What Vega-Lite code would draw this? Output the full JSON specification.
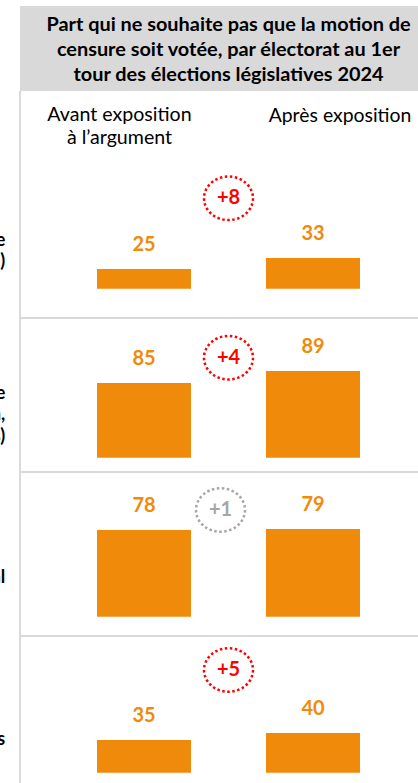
{
  "$schema": "https://vega.github.io/schema/vega-lite/v6.json",
  "padding": 0,
  "spacing": 0,
  "bounds": "flush",
  "config": {"view": {"stroke": null}, "font": "Lato", "text": {"font": "Lato"}},
  "resolve": {"scale": {"x": "independent", "y": "independent"}},
  "datasets": {
    "scores": [
      {"electorat": "Nouveau Front Populaire", "phase": "Avant", "valeur": 25},
      {"electorat": "Nouveau Front Populaire", "phase": "Après", "valeur": 33},
      {"electorat": "Ensemble", "phase": "Avant", "valeur": 85},
      {"electorat": "Ensemble", "phase": "Après", "valeur": 89},
      {"electorat": "Rassemblement National", "phase": "Avant", "valeur": 78},
      {"electorat": "Rassemblement National", "phase": "Après", "valeur": 79},
      {"electorat": "Les Républicains", "phase": "Avant", "valeur": 35},
      {"electorat": "Les Républicains", "phase": "Après", "valeur": 40}
    ],
    "ecarts": [
      {"electorat": "Nouveau Front Populaire", "ecart": "+8", "significatif": "oui", "libelle": "Nouveau Front Populaire\n(LFI, PS, Écologistes, PCF)"},
      {"electorat": "Ensemble", "ecart": "+4", "significatif": "oui", "libelle": "Ensemble\n(Renaissance, MoDem,\nHorizons)"},
      {"electorat": "Rassemblement National", "ecart": "+1", "significatif": "non", "libelle": "Rassemblement National"},
      {"electorat": "Les Républicains", "ecart": "+5", "significatif": "oui", "libelle": "Les Républicains"}
    ]
  },
  "vconcat": [
    {
      "width": 418, "height": 160,
      "data": {"values": [{}]},
      "layer": [
        {"mark": {"type": "rect", "color": "#D9D9D9"},
         "encoding": {
           "x": {"datum": "lbl", "bandPosition": 0.0325, "type": "nominal", "axis": null, "scale": {"type": "band", "domain": ["lbl", "Avant", "ecart", "Après"], "paddingInner": 0, "paddingOuter": 0.4734, "align": 0.2156, "round": false}},
           "x2": {"value": "width"},
           "y": {"datum": "titre", "type": "nominal", "axis": null, "scale": {"type": "band", "domain": ["titre", "colonnes"], "range": [6, 176], "paddingInner": 0, "paddingOuter": 0, "round": false}}
         }},
        {"mark": {"type": "rule", "color": "#D9D9D9", "strokeWidth": 2},
         "encoding": {
           "x": {"datum": "lbl", "bandPosition": 0.0325, "type": "nominal", "axis": null},
           "y": {"datum": "colonnes", "bandPosition": 0, "type": "nominal", "axis": null},
           "y2": {"value": "height"}
         }},
        {"mark": {"type": "text", "fontWeight": "bold", "fontSize": 19.9, "lineHeight": 25, "baseline": "middle", "dy": -23.5, "color": "#000000"},
         "encoding": {
           "x": {"datum": "ecart", "type": "nominal", "axis": null},
           "y": {"datum": "titre", "type": "nominal", "axis": null},
           "text": {"value": ["Part qui ne souhaite pas que la motion de", "censure soit votée, par électorat au 1er", "tour des élections législatives 2024"]}
         }},
        {"mark": {"type": "text", "fontSize": 19.6, "lineHeight": 23, "baseline": "middle", "dx": -24.5, "dy": -18.5, "color": "#000000"},
         "encoding": {
           "x": {"datum": "Avant", "type": "nominal", "axis": null},
           "y": {"datum": "colonnes", "type": "nominal", "axis": null},
           "text": {"value": ["Avant exposition", "à l’argument"]}
         }},
        {"mark": {"type": "text", "fontSize": 19.4, "baseline": "middle", "dx": 27, "dy": -17.5, "color": "#000000"},
         "encoding": {
           "x": {"datum": "Après", "type": "nominal", "axis": null},
           "y": {"datum": "colonnes", "type": "nominal", "axis": null},
           "text": {"value": "Après exposition"}
         }}
      ]
    },
    {
      "width": 418, "height": 158,
      "layer": [
        {"data": {"values": [{}]}, "mark": {"type": "rule", "color": "#D9D9D9", "strokeWidth": 2},
         "encoding": {"x": {"datum": "lbl", "bandPosition": 0.0325, "type": "nominal", "axis": null, "scale": {"type": "band", "domain": ["lbl", "Avant", "ecart", "Après"], "paddingInner": 0, "paddingOuter": 0.4734, "align": 0.2156, "round": false}}}},
        {"data": {"name": "scores"}, "transform": [{"filter": "datum.electorat === 'Nouveau Front Populaire'"}],
         "mark": {"type": "bar", "width": 94, "color": "#F08A0B"},
         "encoding": {"x": {"field": "phase", "type": "nominal", "axis": null}, "y": {"field": "valeur", "type": "quantitative", "axis": null, "scale": {"domain": [-10.64, 104.27], "nice": false, "zero": false}}, "y2": {"datum": 10.69}}},
        {"data": {"name": "scores"}, "transform": [{"filter": "datum.electorat === 'Nouveau Front Populaire'"}],
         "mark": {"type": "text", "fontWeight": "bold", "fontSize": 20, "color": "#F08A0B", "baseline": "middle", "dy": -24},
         "encoding": {"x": {"field": "phase", "type": "nominal", "axis": null}, "y": {"field": "valeur", "type": "quantitative", "axis": null}, "text": {"field": "valeur", "type": "quantitative"}}},
        {"data": {"name": "ecarts"}, "transform": [{"filter": "datum.electorat === 'Nouveau Front Populaire'"}],
         "mark": {"type": "point", "shape": "M-1,0A1,0.888,0,1,0,1,0A1,0.888,0,1,0,-1,0Z", "size": 2401, "filled": false, "strokeWidth": 2.5, "strokeDash": [2.5, 2.5], "opacity": 1},
         "encoding": {"x": {"datum": "ecart", "type": "nominal", "axis": null}, "y": {"datum": 76.4, "type": "quantitative", "axis": null}, "color": {"field": "significatif", "type": "nominal", "legend": null, "scale": {"domain": ["oui", "non"], "range": ["#FF0000", "#A6A6A6"]}}}},
        {"data": {"name": "ecarts"}, "transform": [{"filter": "datum.electorat === 'Nouveau Front Populaire'"}],
         "mark": {"type": "text", "fontWeight": "bold", "fontSize": 20, "baseline": "middle"},
         "encoding": {"x": {"datum": "ecart", "type": "nominal", "axis": null}, "y": {"datum": 76.4, "type": "quantitative", "axis": null}, "text": {"field": "ecart"}, "color": {"field": "significatif", "type": "nominal", "legend": null}}},
        {"data": {"name": "ecarts"}, "transform": [{"filter": "datum.electorat === 'Nouveau Front Populaire'"}],
         "mark": {"type": "text", "fontWeight": "bold", "fontSize": 18, "lineHeight": 21, "align": "right", "baseline": "middle", "dx": -12, "dy": -10.5, "clip": true, "lineBreak": "\n", "color": "#000000"},
         "encoding": {"x": {"datum": "lbl", "bandPosition": 0, "type": "nominal", "axis": null}, "y": {"datum": 37.7, "type": "quantitative", "axis": null}, "text": {"field": "libelle"}}}
      ]
    },
    {
      "width": 418, "height": 154,
      "layer": [
        {"data": {"values": [{}]}, "mark": {"type": "rule", "color": "#D9D9D9", "strokeWidth": 2},
         "encoding": {"x": {"datum": "lbl", "bandPosition": 0.0325, "type": "nominal", "axis": null, "scale": {"type": "band", "domain": ["lbl", "Avant", "ecart", "Après"], "paddingInner": 0, "paddingOuter": 0.4734, "align": 0.2156, "round": false}}}},
        {"data": {"values": [{}]}, "mark": {"type": "rule", "color": "#D9D9D9", "strokeWidth": 2},
         "encoding": {"x": {"datum": "lbl", "bandPosition": 0.0325, "type": "nominal", "axis": null}, "x2": {"value": "width"}, "y": {"datum": 106.67, "type": "quantitative", "axis": null}}},
        {"data": {"name": "scores"}, "transform": [{"filter": "datum.electorat === 'Ensemble'"}],
         "mark": {"type": "bar", "width": 94, "color": "#F08A0B"},
         "encoding": {"x": {"field": "phase", "type": "nominal", "axis": null}, "y": {"field": "valeur", "type": "quantitative", "axis": null, "scale": {"domain": [55.33, 106.67], "nice": false, "zero": false}}, "y2": {"datum": 60.1}}},
        {"data": {"name": "scores"}, "transform": [{"filter": "datum.electorat === 'Ensemble'"}],
         "mark": {"type": "text", "fontWeight": "bold", "fontSize": 20, "color": "#F08A0B", "baseline": "middle", "dy": -24},
         "encoding": {"x": {"field": "phase", "type": "nominal", "axis": null}, "y": {"field": "valeur", "type": "quantitative", "axis": null}, "text": {"field": "valeur", "type": "quantitative"}}},
        {"data": {"name": "ecarts"}, "transform": [{"filter": "datum.electorat === 'Ensemble'"}],
         "mark": {"type": "point", "shape": "M-1,0A1,0.888,0,1,0,1,0A1,0.888,0,1,0,-1,0Z", "size": 2401, "filled": false, "strokeWidth": 2.5, "strokeDash": [2.5, 2.5], "opacity": 1},
         "encoding": {"x": {"datum": "ecart", "type": "nominal", "axis": null}, "y": {"datum": 93.43, "type": "quantitative", "axis": null}, "color": {"field": "significatif", "type": "nominal", "legend": null, "scale": {"domain": ["oui", "non"], "range": ["#FF0000", "#A6A6A6"]}}}},
        {"data": {"name": "ecarts"}, "transform": [{"filter": "datum.electorat === 'Ensemble'"}],
         "mark": {"type": "text", "fontWeight": "bold", "fontSize": 20, "baseline": "middle"},
         "encoding": {"x": {"datum": "ecart", "type": "nominal", "axis": null}, "y": {"datum": 93.43, "type": "quantitative", "axis": null}, "text": {"field": "ecart"}, "color": {"field": "significatif", "type": "nominal", "legend": null}}},
        {"data": {"name": "ecarts"}, "transform": [{"filter": "datum.electorat === 'Ensemble'"}],
         "mark": {"type": "text", "fontWeight": "bold", "fontSize": 18, "lineHeight": 21.5, "align": "right", "baseline": "middle", "dx": -12, "dy": -20, "clip": true, "lineBreak": "\n", "color": "#000000"},
         "encoding": {"x": {"datum": "lbl", "bandPosition": 0, "type": "nominal", "axis": null}, "y": {"datum": 74.8, "type": "quantitative", "axis": null}, "text": {"field": "libelle"}}}
      ]
    },
    {
      "width": 418, "height": 164,
      "layer": [
        {"data": {"values": [{}]}, "mark": {"type": "rule", "color": "#D9D9D9", "strokeWidth": 2},
         "encoding": {"x": {"datum": "lbl", "bandPosition": 0.0325, "type": "nominal", "axis": null, "scale": {"type": "band", "domain": ["lbl", "Avant", "ecart", "Après"], "paddingInner": 0, "paddingOuter": 0.4734, "align": 0.2156, "round": false}}}},
        {"data": {"values": [{}]}, "mark": {"type": "rule", "color": "#D9D9D9", "strokeWidth": 2},
         "encoding": {"x": {"datum": "lbl", "bandPosition": 0.0325, "type": "nominal", "axis": null}, "x2": {"value": "width"}, "y": {"datum": 130.18, "type": "quantitative", "axis": null}}},
        {"data": {"name": "scores"}, "transform": [{"filter": "datum.electorat === 'Rassemblement National'"}],
         "mark": {"type": "bar", "width": 94, "color": "#F08A0B"},
         "encoding": {"x": {"field": "phase", "type": "nominal", "axis": null}, "y": {"field": "valeur", "type": "quantitative", "axis": null, "scale": {"domain": [-17.37, 130.18], "nice": false, "zero": false}}, "y2": {"datum": 0}}},
        {"data": {"name": "scores"}, "transform": [{"filter": "datum.electorat === 'Rassemblement National'"}],
         "mark": {"type": "text", "fontWeight": "bold", "fontSize": 20, "color": "#F08A0B", "baseline": "middle", "dy": -24},
         "encoding": {"x": {"field": "phase", "type": "nominal", "axis": null}, "y": {"field": "valeur", "type": "quantitative", "axis": null}, "text": {"field": "valeur", "type": "quantitative"}}},
        {"data": {"name": "ecarts"}, "transform": [{"filter": "datum.electorat === 'Rassemblement National'"}],
         "mark": {"type": "point", "shape": "M-1,0A1,0.888,0,1,0,1,0A1,0.888,0,1,0,-1,0Z", "size": 2401, "filled": false, "strokeWidth": 2.5, "strokeDash": [2.5, 2.5], "opacity": 1, "xOffset": -8},
         "encoding": {"x": {"datum": "ecart", "type": "nominal", "axis": null}, "y": {"datum": 96.0, "type": "quantitative", "axis": null}, "color": {"field": "significatif", "type": "nominal", "legend": null, "scale": {"domain": ["oui", "non"], "range": ["#FF0000", "#A6A6A6"]}}}},
        {"data": {"name": "ecarts"}, "transform": [{"filter": "datum.electorat === 'Rassemblement National'"}],
         "mark": {"type": "text", "fontWeight": "bold", "fontSize": 20, "baseline": "middle", "dx": -8},
         "encoding": {"x": {"datum": "ecart", "type": "nominal", "axis": null}, "y": {"datum": 96.0, "type": "quantitative", "axis": null}, "text": {"field": "ecart"}, "color": {"field": "significatif", "type": "nominal", "legend": null}}},
        {"data": {"name": "ecarts"}, "transform": [{"filter": "datum.electorat === 'Rassemblement National'"}],
         "mark": {"type": "text", "fontWeight": "bold", "fontSize": 18, "lineHeight": 21, "align": "right", "baseline": "middle", "dx": -12, "clip": true, "lineBreak": "\n", "color": "#000000"},
         "encoding": {"x": {"datum": "lbl", "bandPosition": 0, "type": "nominal", "axis": null}, "y": {"datum": 34.8, "type": "quantitative", "axis": null}, "text": {"field": "libelle"}}}
      ]
    },
    {
      "width": 418, "height": 147,
      "layer": [
        {"data": {"values": [{}]}, "mark": {"type": "rule", "color": "#D9D9D9", "strokeWidth": 2},
         "encoding": {"x": {"datum": "lbl", "bandPosition": 0.0325, "type": "nominal", "axis": null, "scale": {"type": "band", "domain": ["lbl", "Avant", "ecart", "Après"], "paddingInner": 0, "paddingOuter": 0.4734, "align": 0.2156, "round": false}}}},
        {"data": {"values": [{}]}, "mark": {"type": "rule", "color": "#D9D9D9", "strokeWidth": 2},
         "encoding": {"x": {"datum": "lbl", "bandPosition": 0.0325, "type": "nominal", "axis": null}, "x2": {"value": "width"}, "y": {"datum": 109.29, "type": "quantitative", "axis": null}}},
        {"data": {"name": "scores"}, "transform": [{"filter": "datum.electorat === 'Les Républicains'"}],
         "mark": {"type": "bar", "width": 94, "color": "#F08A0B"},
         "encoding": {"x": {"field": "phase", "type": "nominal", "axis": null}, "y": {"field": "valeur", "type": "quantitative", "axis": null, "scale": {"domain": [4.29, 109.29], "nice": false, "zero": false}}, "y2": {"datum": 11.65}}},
        {"data": {"name": "scores"}, "transform": [{"filter": "datum.electorat === 'Les Républicains'"}],
         "mark": {"type": "text", "fontWeight": "bold", "fontSize": 20, "color": "#F08A0B", "baseline": "middle", "dy": -24},
         "encoding": {"x": {"field": "phase", "type": "nominal", "axis": null}, "y": {"field": "valeur", "type": "quantitative", "axis": null}, "text": {"field": "valeur", "type": "quantitative"}}},
        {"data": {"name": "ecarts"}, "transform": [{"filter": "datum.electorat === 'Les Républicains'"}],
         "mark": {"type": "point", "shape": "M-1,0A1,0.888,0,1,0,1,0A1,0.888,0,1,0,-1,0Z", "size": 2401, "filled": false, "strokeWidth": 2.5, "strokeDash": [2.5, 2.5], "opacity": 1},
         "encoding": {"x": {"datum": "ecart", "type": "nominal", "axis": null}, "y": {"datum": 85.0, "type": "quantitative", "axis": null}, "color": {"field": "significatif", "type": "nominal", "legend": null, "scale": {"domain": ["oui", "non"], "range": ["#FF0000", "#A6A6A6"]}}}},
        {"data": {"name": "ecarts"}, "transform": [{"filter": "datum.electorat === 'Les Républicains'"}],
         "mark": {"type": "text", "fontWeight": "bold", "fontSize": 20, "baseline": "middle"},
         "encoding": {"x": {"datum": "ecart", "type": "nominal", "axis": null}, "y": {"datum": 85.0, "type": "quantitative", "axis": null}, "text": {"field": "ecart"}, "color": {"field": "significatif", "type": "nominal", "legend": null}}},
        {"data": {"name": "ecarts"}, "transform": [{"filter": "datum.electorat === 'Les Républicains'"}],
         "mark": {"type": "text", "fontWeight": "bold", "fontSize": 18, "lineHeight": 21, "align": "right", "baseline": "middle", "dx": -12, "clip": true, "lineBreak": "\n", "color": "#000000"},
         "encoding": {"x": {"datum": "lbl", "bandPosition": 0, "type": "nominal", "axis": null}, "y": {"datum": 35.0, "type": "quantitative", "axis": null}, "text": {"field": "libelle"}}}
      ]
    }
  ]
}
